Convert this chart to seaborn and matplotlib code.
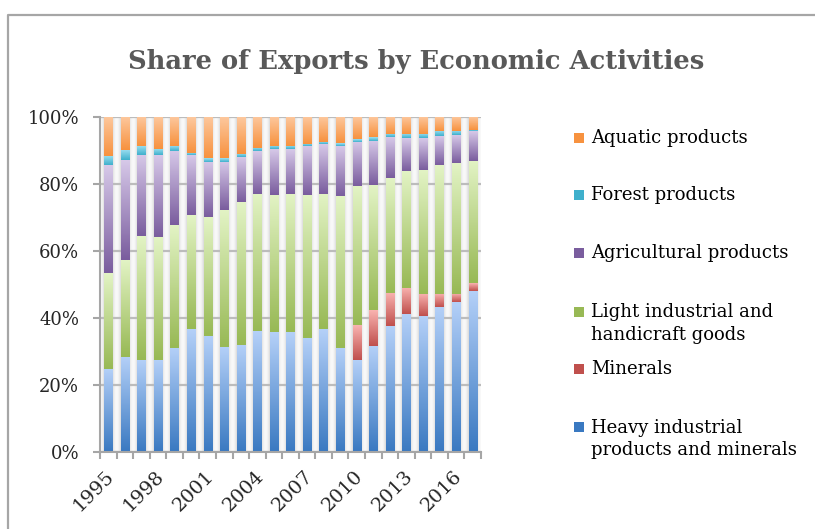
import numpy as np
import pandas as pd
import matplotlib
matplotlib.use("Agg")
import matplotlib.pyplot as plt
import matplotlib.transforms as mtransforms
import seaborn as sns
from matplotlib.colors import LinearSegmentedColormap
from matplotlib.patches import Rectangle
from matplotlib.lines import Line2D

# Share of exports (%) by economic activity, 1995-2017
years = list(range(1995, 2018))
heavy = [24.8, 28.4, 27.6, 27.5, 31.1, 36.7, 34.7, 31.4, 32.0, 36.1, 35.8, 35.8,
         34.1, 36.7, 31.1, 27.5, 31.7, 37.6, 41.2, 40.6, 43.3, 44.8, 48.1]
minerals = [0, 0, 0, 0, 0, 0, 0, 0, 0, 0, 0, 0,
            0, 0, 0, 10.4, 10.7, 9.9, 7.8, 6.6, 3.9, 2.4, 2.2]
light = [28.6, 28.9, 36.8, 36.7, 36.6, 34.0, 35.4, 40.8, 42.6, 40.9, 40.9, 41.2,
         42.6, 40.3, 45.3, 41.4, 37.2, 34.2, 34.8, 36.9, 38.4, 39.0, 36.5]
agricultural = [32.2, 29.8, 24.2, 24.4, 22.1, 17.9, 16.5, 14.4, 13.4, 12.8, 13.7, 13.4,
                14.6, 14.9, 14.9, 13.2, 13.2, 12.2, 9.8, 9.5, 8.6, 8.3, 8.9]
forest = [2.7, 3.0, 2.7, 1.8, 1.5, 0.8, 1.1, 1.1, 1.0, 0.9, 0.9, 0.9,
          0.6, 0.6, 0.8, 0.8, 1.1, 0.9, 1.2, 1.2, 1.5, 1.2, 0.3]
aquatic = [11.7, 9.9, 8.7, 9.6, 8.7, 10.6, 12.3, 12.3, 11.0, 9.3, 8.7, 8.7,
           8.1, 7.5, 7.9, 6.7, 6.1, 5.2, 5.2, 5.2, 4.3, 4.3, 4.0]

labels = ["Heavy industrial\nproducts and minerals", "Minerals",
          "Light industrial and\nhandicraft goods", "Agricultural products",
          "Forest products", "Aquatic products"]
values = [heavy, minerals, light, agricultural, forest, aquatic]
# (light top, dark bottom) of each gradient fill
colors = [("#b4d0f8", "#3a79c1"), ("#f9b3b0", "#c0504d"), ("#e2f3c4", "#98b955"),
          ("#d6c8e8", "#7a5d9e"), ("#9fe0f2", "#3fb0cc"), ("#fdc89e", "#f7923f")]
year_labels = [str(y) if (y - 1995) % 3 == 0 else "" for y in years]

sns.set_theme(style="white")
plt.rcParams["font.family"] = ["DejaVu Serif"]

W, H = 815, 529
fig = plt.figure(figsize=(W / 100, H / 100), dpi=100)
ax = fig.add_axes([100 / W, 1 - 452 / H, 381 / W, 335 / H])

df = pd.DataFrame({"year": [str(y) for y in years]})
bottom = np.zeros(len(years))
for name, vals, (c_top, c_bot) in zip(labels, values, colors):
    vals = np.asarray(vals, dtype=float)
    start = len(ax.patches)
    sns.barplot(x=df["year"], y=vals, bottom=bottom.copy(), order=list(df["year"]),
                color=c_bot, saturation=1, width=0.5, errorbar=None,
                linewidth=0, ax=ax, zorder=3)
    cmap = LinearSegmentedColormap.from_list(name, [c_bot, c_top])
    grad = np.linspace(0, 1, 64).reshape(-1, 1)
    for p in ax.patches[start:]:
        h = p.get_height()
        if h <= 0:
            continue
        x0, y0, w = p.get_x(), p.get_y(), p.get_width()
        im = ax.imshow(grad, extent=[x0, x0 + w, y0, y0 + h], origin="lower",
                       aspect="auto", cmap=cmap, zorder=3.5, interpolation="bilinear")
        im.set_clip_path(p)
    bottom += vals

n = len(years)

# soft shading in the gaps between the columns
xs = np.linspace(-0.5, n - 0.5, n * 60)
frac = np.abs(xs - np.round(xs))
u = np.clip((frac - 0.25) / 0.25, 0, 1)
shade = 0.975 - 0.12 * (1 - u) ** 2
ax.imshow(np.tile(shade, (2, 1)), extent=[-0.5, n - 0.5, 0, 100], cmap="gray",
          vmin=0, vmax=1, aspect="auto", zorder=0.2, interpolation="bilinear")
ax.set_xlim(-0.5, n - 0.5)
ax.set_ylim(0, 100)

ax.set_axisbelow(True)
ax.yaxis.grid(True, color="#bcbcbc", linewidth=1.6, zorder=1)
ax.xaxis.grid(False)
for s in ["top", "right"]:
    ax.spines[s].set_visible(False)
for s in ["left", "bottom"]:
    ax.spines[s].set_color("#a6a6a6")
    ax.spines[s].set_linewidth(1.5)
    ax.spines[s].set_zorder(5)

ax.set_yticks(range(0, 101, 20))
ax.set_yticklabels([f"{v}%" for v in range(0, 101, 20)], fontsize=13)
ax.tick_params(axis="y", length=5, width=1.5, color="#a6a6a6", pad=10, left=True)

ax.set_xticks(range(n))
ax.set_xticklabels(year_labels, fontsize=14, rotation=45, ha="right", va="top",
                   rotation_mode="anchor")
ax.tick_params(axis="x", which="major", length=0, pad=11)
shift = mtransforms.ScaledTranslation(-3 / 100, 0, fig.dpi_scale_trans)
for lab in ax.get_xticklabels():
    lab.set_transform(lab.get_transform() + shift)
ax.set_xticks(np.arange(-0.5, n, 1.0), minor=True)
ax.tick_params(axis="x", which="minor", length=5, width=1.5, color="#a6a6a6",
               bottom=True)
ax.set_xlabel("")
ax.set_ylabel("")

fig.text(416 / W, 1 - 62 / H, "Share of Exports by Economic Activities",
         ha="center", va="center", fontsize=18.5, fontweight="bold", color="#595959")

# legend, top entry first
legend_rows = [(5, 138, 138), (4, 195, 195), (3, 253, 253), (2, 312, 323.5),
               (1, 369, 369), (0, 427, 439)]
for idx, y_sq, y_txt in legend_rows:
    c_top, c_bot = colors[idx]
    fig.patches.append(Rectangle((574 / W, 1 - (y_sq + 5) / H), 10 / W, 10 / H,
                                 transform=fig.transFigure, facecolor=c_bot,
                                 edgecolor="none"))
    fig.text(591 / W, 1 - y_txt / H, labels[idx], ha="left", va="center",
             fontsize=13, color="black", linespacing=1.3)

frame_col = "#a6a6a6"
fig.lines.append(Line2D([8 / W, 8 / W, 1], [0, 1 - 15 / H, 1 - 15 / H],
                        transform=fig.transFigure, color=frame_col, linewidth=1.6))

fig.savefig("out.png", dpi=100)
